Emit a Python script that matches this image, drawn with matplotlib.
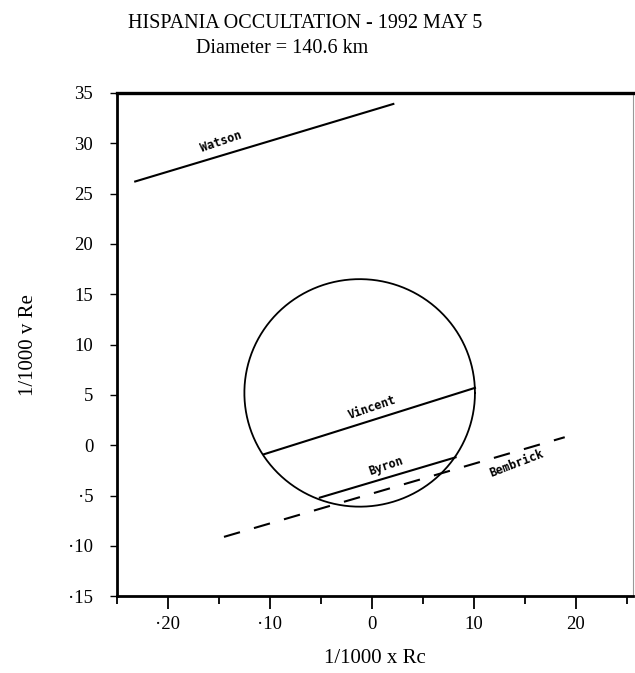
import numpy as np
import matplotlib.pyplot as plt
from matplotlib.ticker import MultipleLocator

# chord data (1/1000 x Re)
observers = ["Watson", "Vincent", "Byron", "Bembrick"]
x_start = [-23.2, -10.6, -5.1, -14.5]
y_start = [26.2, -0.9, -5.2, -9.1]
x_end = [2.1, 10.1, 8.2, 18.9]
y_end = [33.9, 5.7, -1.2, 0.8]
dashed = [False, False, False, True]

# fitted profile
circle_x0 = -1.2
circle_y0 = 5.2
circle_r = 11.3

# label spots
label_x = [-14.8, 0.0, 1.4, 14.2]
label_y = [30.1, 3.7, -2.1, -1.8]
label_rot = [19, 19, 19, 21]

serif = "Liberation Serif"

fig = plt.figure(figsize=(6.35, 6.73), dpi=100)
ax = fig.add_axes([0.184, 0.114, 0.813, 0.748])

t = np.linspace(0, 2 * np.pi, 400)
ax.plot(circle_x0 + circle_r * np.cos(t), circle_y0 + circle_r * np.sin(t),
        color="black", lw=1.3)

for i, name in enumerate(observers):
    ls = (0, (8, 7)) if dashed[i] else "-"
    ax.plot([x_start[i], x_end[i]], [y_start[i], y_end[i]], color="black",
            lw=1.5, ls=ls)
    ax.text(label_x[i], label_y[i], name, family="DejaVu Sans Mono",
            fontsize=8.5, fontweight="bold", rotation=label_rot[i],
            ha="center", va="center")

ax.xaxis.set_major_locator(MultipleLocator(10))
ax.xaxis.set_minor_locator(MultipleLocator(5))
ax.yaxis.set_major_locator(MultipleLocator(5))

xt = [-20, -10, 0, 10, 20]
ax.set_xticks(xt)
ax.set_xticklabels([f"{v:g}".replace("-", "·") for v in xt])
yt = list(range(-15, 40, 5))
ax.set_yticks(yt)
ax.set_yticklabels([f"{v:g}".replace("-", "·") for v in yt])
ax.set_xlim(-25, 25.6)
ax.set_ylim(-15, 35)

ax.tick_params(axis="x", which="major", direction="out", length=9, width=1.3,
               labelsize=13.5, pad=5)
ax.tick_params(axis="x", which="minor", direction="out", length=6, width=1.3)
ax.tick_params(axis="y", which="major", direction="out", length=5, width=1.0,
               labelsize=13.5, pad=12)
for lab in ax.get_xticklabels() + ax.get_yticklabels():
    lab.set_family(serif)

for s in ["left", "bottom"]:
    ax.spines[s].set_linewidth(2.0)
ax.spines["top"].set_linewidth(2.4)
ax.spines["right"].set_linewidth(0.8)
ax.spines["right"].set_color("#999999")

ax.set_xlabel("1/1000 x Rc", family=serif, fontsize=15, labelpad=12)
ax.set_ylabel("1/1000 v Re", family=serif, fontsize=15, labelpad=22)

fig.text(0.48, 0.965, "HISPANIA OCCULTATION - 1992 MAY 5", family=serif,
         fontsize=14.5, ha="center", va="center")
fig.text(0.445, 0.928, "Diameter = 140.6 km", family=serif,
         fontsize=14.5, ha="center", va="center")

fig.savefig("out.png", dpi=100)
